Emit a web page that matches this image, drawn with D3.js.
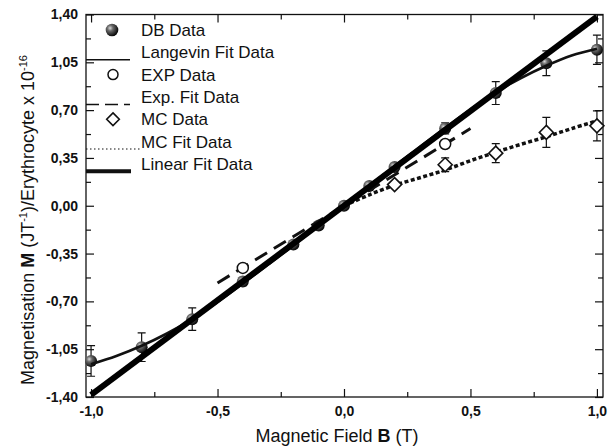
<!DOCTYPE html>
<html>
<head>
<meta charset="utf-8">
<script src="https://cdn.jsdelivr.net/npm/d3@7"></script>
<style>
  body { margin: 0; background: #fff; }
  text { font-family: "Liberation Sans", Arial, sans-serif; fill: #111; }
</style>
</head>
<body>
<div id="chart"></div>
<script>
// DB data (filled spheres) with error bars
var dbX = [-1.0, -0.8, -0.6, -0.4, -0.2, -0.1, 0.0, 0.1, 0.2, 0.4, 0.6, 0.8, 1.0];
var dbY = [-1.136, -1.035, -0.83, -0.555, -0.283, -0.144, 0.0, 0.144, 0.283, 0.566, 0.825, 1.043, 1.142];
var dbErr = [0.112, 0.105, 0.082, 0.03, 0.02, 0.015, 0.01, 0.015, 0.02, 0.04, 0.084, 0.09, 0.107];

// Langevin fit curve
var langX = [-1.0, -0.9, -0.8, -0.7, -0.6, -0.5, -0.4, -0.3, -0.2, -0.1, 0.0, 0.1, 0.2, 0.3, 0.4, 0.5, 0.6, 0.7, 0.8, 0.9, 1.0];
var langY = [-1.16, -1.10, -1.025, -0.935, -0.83, -0.705, -0.57, -0.43, -0.29, -0.145, 0.0, 0.145, 0.29, 0.43, 0.57, 0.705, 0.83, 0.935, 1.025, 1.10, 1.15];

// EXP data (open circles) and its fit
var expX = [-0.4, 0.4];
var expY = [-0.455, 0.452];
var expFitX = [-0.5, 0.5];
var expFitY = [-0.565, 0.565];

// MC data (diamonds) and its fit
var mcX = [0.2, 0.4, 0.6, 0.8, 1.0];
var mcY = [0.155, 0.30, 0.385, 0.537, 0.585];
var mcErr = [0.02, 0.05, 0.07, 0.11, 0.11];
var mcFitX = [0.0, 0.1, 0.2, 0.3, 0.4, 0.5, 0.6, 0.7, 0.8, 0.9, 1.0];
var mcFitY = [0.0, 0.08, 0.15, 0.205, 0.262, 0.33, 0.392, 0.45, 0.505, 0.565, 0.622];

// Linear fit
var linX = [-1.0, 1.0];
var linY = [-1.385, 1.385];

// ticks
var xMajor = [-1.0, -0.5, 0.0, 0.5, 1.0];
var xMinor = [-0.75, -0.25, 0.25, 0.75];
var yMajor = [-1.40, -1.05, -0.70, -0.35, 0.0, 0.35, 0.70, 1.05, 1.40];
var yMinor = [-1.225, -0.875, -0.525, -0.175, 0.175, 0.525, 0.875, 1.225];

var legendNames = ["DB Data", "Langevin Fit Data", "EXP Data", "Exp. Fit Data", "MC Data", "MC Fit Data", "Linear Fit Data"];
var legendKinds = ["sphere", "solid", "circle", "dash", "diamond", "dot", "thick"];

var svgWidth = 615;
var svgHeight = 448;
var margin = { top: 14.5, right: 12, bottom: 51, left: 86 };
var chartWidth = svgWidth - margin.left - margin.right;
var chartHeight = svgHeight - margin.top - margin.bottom;

var svg = d3.select("#chart").append("svg")
  .attr("width", svgWidth)
  .attr("height", svgHeight);

// sphere look for DB markers
var grad = svg.append("defs").append("radialGradient")
  .attr("id", "sphere")
  .attr("cx", "35%").attr("cy", "35%").attr("r", "65%");
grad.append("stop").attr("offset", "0%").attr("stop-color", "#d8d8d8");
grad.append("stop").attr("offset", "35%").attr("stop-color", "#6a6a6a");
grad.append("stop").attr("offset", "100%").attr("stop-color", "#0a0a0a");

var chartGroup = svg.append("g")
  .attr("transform", `translate(${margin.left}, ${margin.top})`);

var x = d3.scaleLinear().domain([-1.02, 1.024]).range([0, chartWidth]);
var y = d3.scaleLinear().domain([-1.4, 1.4]).range([chartHeight, 0]);

// decimal comma, plain hyphen minus
var locale = d3.formatLocale({ decimal: ",", thousands: ".", grouping: [3], currency: ["", ""], minus: "-" });
var commaFmt = n => locale.format("." + n + "f");

// axes, ticks pointing inward
function addAxis(axisFn, values, size, transform, fmt, pad) {
  var a = axisFn.tickValues(values).tickSizeInner(-size).tickSizeOuter(0).tickPadding(pad || 3);
  a.tickFormat(fmt || (() => ""));
  var g = chartGroup.append("g").attr("transform", transform).call(a);
  g.select(".domain").remove();
  g.selectAll("line").attr("stroke", "#111").attr("stroke-width", 1.2);
  g.selectAll("text")
    .attr("font-family", "Liberation Sans, Arial, sans-serif")
    .attr("font-size", "14px")
    .attr("font-weight", "bold")
    .attr("fill", "#111");
  return g;
}

addAxis(d3.axisBottom(x), xMajor, 8, `translate(0, ${chartHeight})`, commaFmt(1), 9);
addAxis(d3.axisBottom(x), xMinor, 5, `translate(0, ${chartHeight})`);
addAxis(d3.axisTop(x), xMajor, 8, "translate(0, 0)");
addAxis(d3.axisTop(x), xMinor, 5, "translate(0, 0)");
addAxis(d3.axisLeft(y), yMajor, 8, "translate(0, 0)", commaFmt(2), 8);
addAxis(d3.axisLeft(y), yMinor, 5, "translate(0, 0)");
addAxis(d3.axisRight(y), yMajor, 8, `translate(${chartWidth}, 0)`);
addAxis(d3.axisRight(y), yMinor, 5, `translate(${chartWidth}, 0)`);

// frame
chartGroup.append("rect")
  .attr("width", chartWidth)
  .attr("height", chartHeight)
  .attr("fill", "none")
  .attr("stroke", "#111")
  .attr("stroke-width", 1.3);

function pairs(xs, ys) { return xs.map((v, i) => [v, ys[i]]); }

var line = d3.line().x(d => x(d[0])).y(d => y(d[1]));
var smooth = d3.line().x(d => x(d[0])).y(d => y(d[1])).curve(d3.curveCatmullRom);

function diamondPath(cx, cy, r) {
  return `M${cx},${cy - r}L${cx + r},${cy}L${cx},${cy + r}L${cx - r},${cy}Z`;
}

// error bars
function errorBars(xs, ys, es) {
  var g = chartGroup.append("g").attr("stroke", "#111").attr("stroke-width", 1.2).attr("fill", "none");
  var data = xs.map((v, i) => ({ x: v, y: ys[i], e: es[i] }));
  g.selectAll("path").data(data).join("path")
    .attr("d", d => {
      var cx = x(d.x), t = y(d.y + d.e), b = y(d.y - d.e);
      return `M${cx},${t}V${b}M${cx - 4},${t}H${cx + 4}M${cx - 4},${b}H${cx + 4}`;
    });
}
errorBars(dbX, dbY, dbErr);
errorBars(mcX, mcY, mcErr);

// DB spheres sit under the fit lines
chartGroup.selectAll(".db").data(pairs(dbX, dbY)).join("circle")
  .attr("class", "db")
  .attr("cx", d => x(d[0])).attr("cy", d => y(d[1])).attr("r", 6)
  .attr("fill", "url(#sphere)");

// fit lines
chartGroup.append("path")
  .datum(pairs(langX, langY))
  .attr("d", smooth)
  .attr("fill", "none").attr("stroke", "#111").attr("stroke-width", 2.6);

chartGroup.append("path")
  .datum(pairs(expFitX, expFitY))
  .attr("d", line)
  .attr("fill", "none").attr("stroke", "#111").attr("stroke-width", 3)
  .attr("stroke-dasharray", "14,8");

chartGroup.append("path")
  .datum(pairs(mcFitX, mcFitY))
  .attr("d", smooth)
  .attr("fill", "none").attr("stroke", "#111").attr("stroke-width", 3.5)
  .attr("stroke-dasharray", "4,2.5");

chartGroup.append("path")
  .datum(pairs(linX, linY))
  .attr("d", line)
  .attr("fill", "none").attr("stroke", "#000").attr("stroke-width", 6);

// open markers on top
chartGroup.selectAll(".exp").data(pairs(expX, expY)).join("circle")
  .attr("class", "exp")
  .attr("cx", d => x(d[0])).attr("cy", d => y(d[1])).attr("r", 5.5)
  .attr("fill", "#fff").attr("stroke", "#111").attr("stroke-width", 1.5);

chartGroup.selectAll(".mc").data(pairs(mcX, mcY)).join("path")
  .attr("class", "mc")
  .attr("d", d => diamondPath(x(d[0]), y(d[1]), 7))
  .attr("fill", "#fff").attr("stroke", "#111").attr("stroke-width", 1.6);

// legend
var legend = chartGroup.append("g");
var styles = {
  solid: { w: 1.6, dash: null, end: 44 },
  dash: { w: 1.5, dash: "13,6", end: 44 },
  dot: { w: 1.2, dash: "1.5,2.5", end: 54 },
  thick: { w: 4, dash: null, end: 45 }
};
legendNames.forEach(function(name, i) {
  var base = 21.5 + i * 22.3;
  var row = legend.append("g");
  var kind = legendKinds[i];
  if (kind === "sphere") {
    row.append("circle").attr("cx", 26).attr("cy", base - 6).attr("r", 6.3).attr("fill", "url(#sphere)");
  } else if (kind === "circle") {
    row.append("circle").attr("cx", 27).attr("cy", base - 6).attr("r", 5)
      .attr("fill", "#fff").attr("stroke", "#111").attr("stroke-width", 1.5);
  } else if (kind === "diamond") {
    row.append("path").attr("d", diamondPath(27, base - 6, 6.3))
      .attr("fill", "#fff").attr("stroke", "#111").attr("stroke-width", 1.6);
  } else {
    var s = styles[kind];
    row.append("line")
      .attr("x1", 0).attr("x2", s.end)
      .attr("y1", base + 1.5).attr("y2", base + 1.5)
      .attr("stroke", "#111").attr("stroke-width", s.w)
      .attr("stroke-dasharray", s.dash);
  }
  row.append("text")
    .attr("x", 55).attr("y", base)
    .attr("font-size", "17px")
    .text(name);
});

// axis titles
var xTitle = svg.append("text")
  .attr("x", 337).attr("y", 442)
  .attr("text-anchor", "middle")
  .attr("font-size", "18px");
xTitle.append("tspan").text("Magnetic Field ");
xTitle.append("tspan").attr("font-weight", "bold").text("B");
xTitle.append("tspan").text(" (T)");

var yTitle = svg.append("text")
  .attr("transform", "translate(33.5, 220) rotate(-90)")
  .attr("text-anchor", "middle")
  .attr("font-size", "18px");
yTitle.append("tspan").text("Magnetisation ");
yTitle.append("tspan").attr("font-weight", "bold").text("M");
yTitle.append("tspan").text(" (JT");
yTitle.append("tspan").attr("font-size", "11px").attr("dy", "-7").text("-1");
yTitle.append("tspan").attr("dy", "7").text(")/Erythrocyte x 10");
yTitle.append("tspan").attr("font-size", "11px").attr("dy", "-7").text("-16");
</script>
</body>
</html>
